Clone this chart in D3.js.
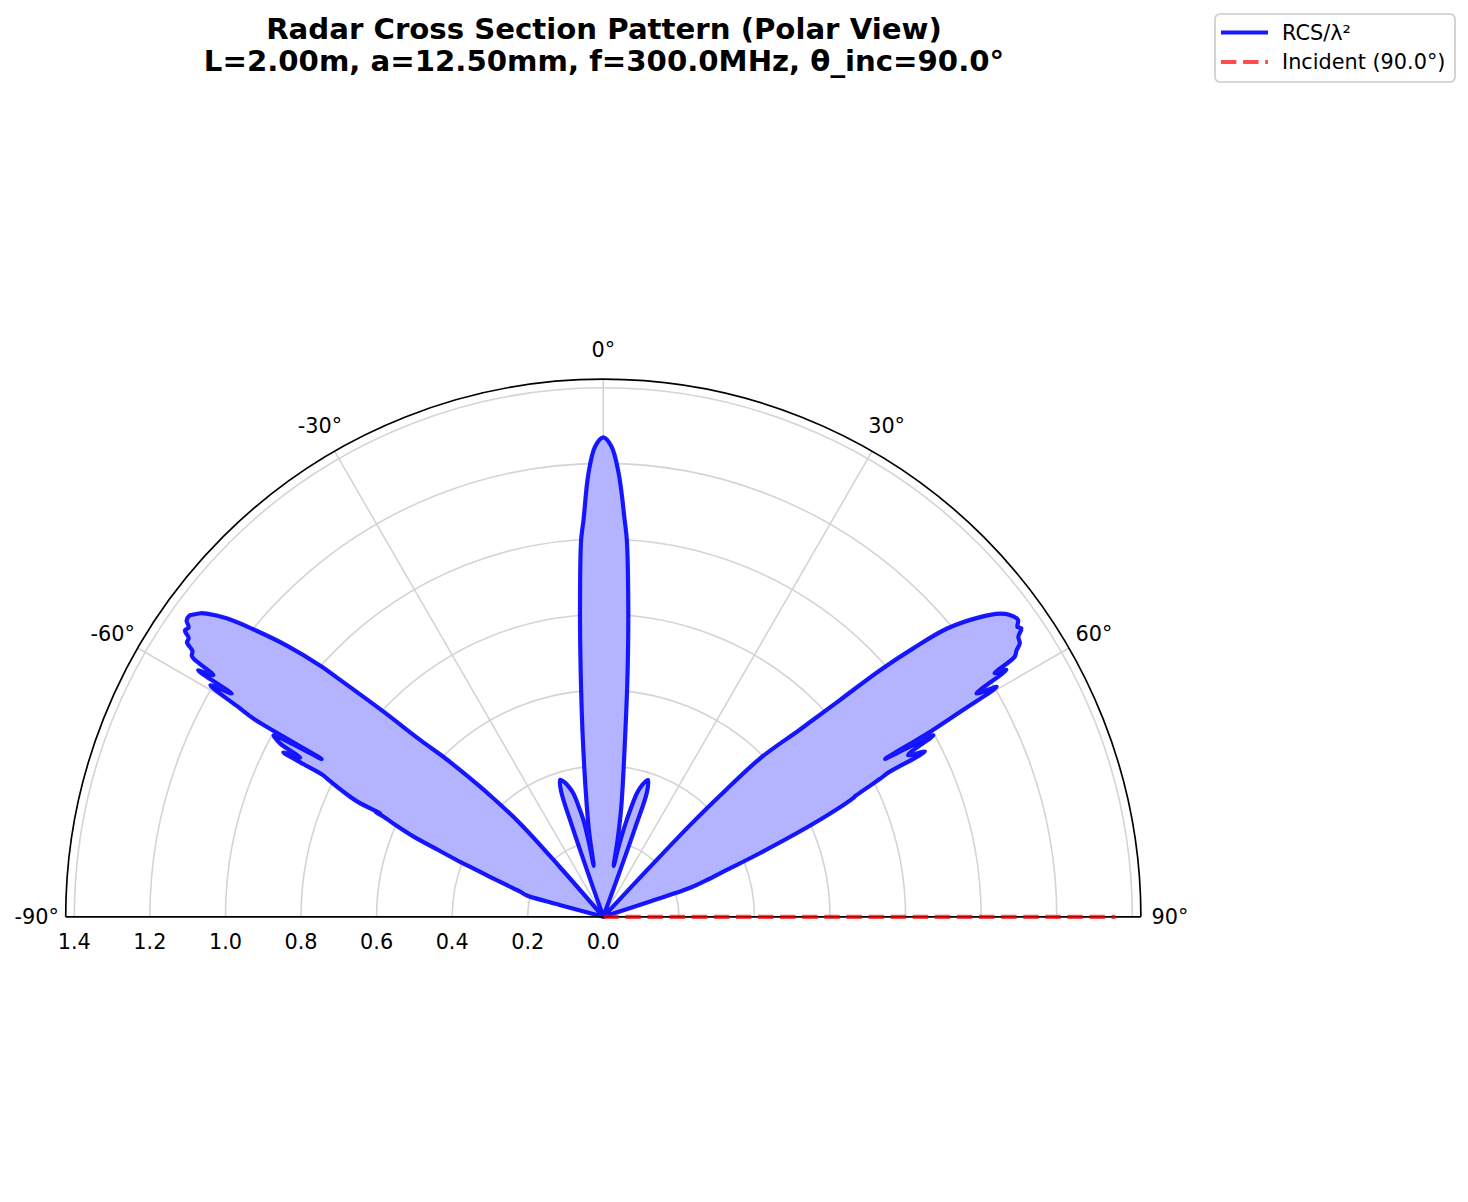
<!DOCTYPE html>
<html><head><meta charset="utf-8">
<script src="https://cdn.jsdelivr.net/npm/d3@7"></script>
<style>body{margin:0;background:#fff} svg{display:block} text{font-family:"DejaVu Sans",sans-serif}</style>
</head><body><svg id="c" width="1468" height="1202"></svg>
<script>
// ---- data (angles in degrees, 0 at top, clockwise positive) ----
const thetaDeg = [
 -90,-75.2,-74.8,-74.4,-73.2,-71.8,-70.6,-69.7,-69.0,-68.0,-67.1,-66.2,-65.5,-65.3,-65.15,-64.9,-64.2,-63.4,-63.2,-63.0,
 -62.8,-62.3,-61.8,-61.2,-60.75,-60.5,-60.1,-59.5,-59.0,-58.7,-58.2,-57.8,-57.6,-57.1,-56.6,-56.1,-55.6,-55.1,-54.6,-54.0,
 -53.6,-53.0,-52.6,-51.6,-50.6,-49.4,-48.4,-48.0,-47.0,-46.0,-45.0,-44.3,-43.0,-41.7,-41.1,-40.8,
 -19.6,-19.3,-19.0,-18.6,-17.5,-16.0,-14.8,-13.6,-12.6,-11.6,-10.9,-10.6,
 -9.6,-8.5,-6.6,-5.3,-4.3,-3.37,-2.87,-1.93,-1.0,0,1.0,2.0,3.1,3.57,4.6,5.7,7.0,9.3,10.5,11.5,
 12.3,13.6,15.2,16.5,18.1,19.3,19.7,20.0,20.3,
 42.8,43.1,43.4,44.0,44.7,46.4,47.5,48.3,49.1,50.0,51.5,52.6,53.4,54.4,55.0,55.4,56.0,56.7,57.2,57.7,
 58.1,58.5,59.1,59.7,60.1,60.5,60.75,61.2,62.05,62.8,63.2,63.4,64.4,64.6,66.0,67.9,69.3,70.5,71.6,71.9,72.1,90
];
const rcsValues = [
 0,0,0.12,0.21,0.23,0.27,0.317,0.36,0.406,0.47,0.545,0.60,0.639,0.665,0.65,0.72,0.77,0.818,0.83,0.90,
 0.952,0.906,0.97,0.996,0.854,1.06,1.118,1.207,1.147,1.255,1.214,1.28,1.29,1.295,1.32,1.322,1.342,1.338,1.353,1.355,
 1.348,1.335,1.321,1.272,1.199,1.103,1.0,0.937,0.80,0.674,0.60,0.542,0.44,0.331,0.174,0,
 0,0.13,0.26,0.35,0.38,0.37,0.355,0.336,0.30,0.261,0.19,0.137,
 0.22,0.295,0.471,0.647,0.823,0.999,1.05,1.173,1.245,1.269,1.245,1.173,1.05,1.0,0.825,0.647,0.471,0.295,0.21,0.137,
 0.19,0.264,0.339,0.365,0.381,0.35,0.25,0.12,0,
 0,0.17,0.334,0.46,0.59,0.719,0.849,0.981,1.085,1.186,1.274,1.321,1.34,1.35,1.338,1.344,1.325,1.319,1.301,1.288,
 1.22,1.251,1.151,1.206,1.098,0.993,0.855,0.997,0.913,0.957,0.84,0.828,0.74,0.732,0.618,0.447,0.344,0.29,0.241,0.12,0,0
];
const radialTicks = [0.0,0.2,0.4,0.6,0.8,1.0,1.2,1.4];
const angleTicks = [-90,-60,-30,0,30,60,90];
const incidentAngle = 90;
const titleLines = ["Radar Cross Section Pattern (Polar View)", "L=2.00m, a=12.50mm, f=300.0MHz, θ_inc=90.0°"];
const legendLabels = ["RCS/λ²", "Incident (90.0°)"];

// ---- layout ----
const cx = 603.3, cy = 916.8, R = 537.6;
const svg = d3.select("#c");
const rMaxData = d3.max(rcsValues);
const rmax = rMaxData * 1.05;
const r = d3.scaleLinear().domain([0, rmax]).range([0, R]);
const ang = d3.scaleLinear().domain([-180, 180]).range([-Math.PI, Math.PI]);
const g = svg.append("g").attr("transform", `translate(${cx},${cy})`);

const arc = d3.arc().startAngle(-Math.PI/2).endAngle(Math.PI/2);
// radial grid
g.selectAll(".rg").data(radialTicks.filter(t => t > 0)).join("path")
  .attr("d", t => arc({innerRadius: r(t), outerRadius: r(t)}))
  .attr("fill", "none").attr("stroke", "#d4d4d4").attr("stroke-width", 1.6);
// angular grid
g.selectAll(".ag").data(angleTicks.filter(a => Math.abs(a) < 90)).join("line")
  .attr("x1", 0).attr("y1", 0)
  .attr("x2", a => R * Math.sin(ang(a))).attr("y2", a => -R * Math.cos(ang(a)))
  .attr("stroke", "#d4d4d4").attr("stroke-width", 1.6);

const pts = thetaDeg.map((t, i) => [ang(t), r(rcsValues[i])]);
const lineR = d3.lineRadial().angle(d => d[0]).radius(d => d[1]).curve(d3.curveCatmullRom.alpha(0.5));
// fill
g.append("path").attr("d", lineR(pts) + "Z").attr("fill", "rgb(179,179,255)").attr("stroke", "none");
// outline
g.append("path").attr("d", lineR(pts)).attr("fill", "none")
  .attr("stroke", "rgba(0,0,255,0.9)").attr("stroke-width", 4.17).attr("stroke-linejoin", "round").attr("stroke-linecap", "round");

// spines
g.append("path").attr("d", arc({innerRadius: R, outerRadius: R})).attr("fill", "none").attr("stroke", "#000").attr("stroke-width", 1.67);
g.append("line").attr("x1", -R).attr("x2", R).attr("y1", 0).attr("y2", 0).attr("stroke", "#000").attr("stroke-width", 1.67);

// incident line
const lineStraight = d3.lineRadial().angle(d => d[0]).radius(d => d[1]);
g.append("path").attr("d", lineStraight([[ang(incidentAngle), 0], [ang(incidentAngle), r(rMaxData)]]))
  .attr("stroke", "rgba(255,0,0,0.7)").attr("stroke-width", 4.17).attr("stroke-dasharray", "15.4,6.7").attr("fill", "none");

// angle labels
g.selectAll(".al").data(angleTicks).join("text")
  .attr("x", a => (R + 29) * Math.sin(ang(a))).attr("y", a => -(R + 29) * Math.cos(ang(a)))
  .attr("text-anchor", "middle").attr("dominant-baseline", "central")
  .attr("font-size", 20.8).text(a => a + "°");
// radial labels
g.selectAll(".rl").data(radialTicks).join("text")
  .attr("x", t => -r(t)).attr("y", 25)
  .attr("text-anchor", "middle").attr("dominant-baseline", "central")
  .attr("font-size", 20.8).text(t => t.toFixed(1));

// title
svg.selectAll(".tt").data(titleLines).join("text")
  .attr("x", 604).attr("y", (d, i) => 39 + i * 32)
  .attr("text-anchor", "middle").attr("font-size", 29.2).attr("font-weight", "bold").text(d => d);

// legend
const lg = svg.append("g").attr("transform", "translate(1215,14)");
lg.append("rect").attr("width", 240).attr("height", 68).attr("rx", 5)
  .attr("fill", "rgba(255,255,255,0.8)").attr("stroke", "#cccccc").attr("stroke-width", 1.67);
const legendStyles = [{c: "rgba(0,0,255,0.9)", d: null}, {c: "rgba(255,0,0,0.7)", d: "15.4,6.7"}];
legendLabels.forEach((lab, i) => {
  const y = 18.5 + i * 29.5;
  lg.append("line").attr("x1", 6).attr("x2", 53).attr("y1", y).attr("y2", y)
    .attr("stroke", legendStyles[i].c).attr("stroke-width", 4.17).attr("stroke-dasharray", legendStyles[i].d);
  lg.append("text").attr("x", 67).attr("y", y).attr("dominant-baseline", "central")
    .attr("font-size", 20.8).text(lab);
});
</script></body></html>
